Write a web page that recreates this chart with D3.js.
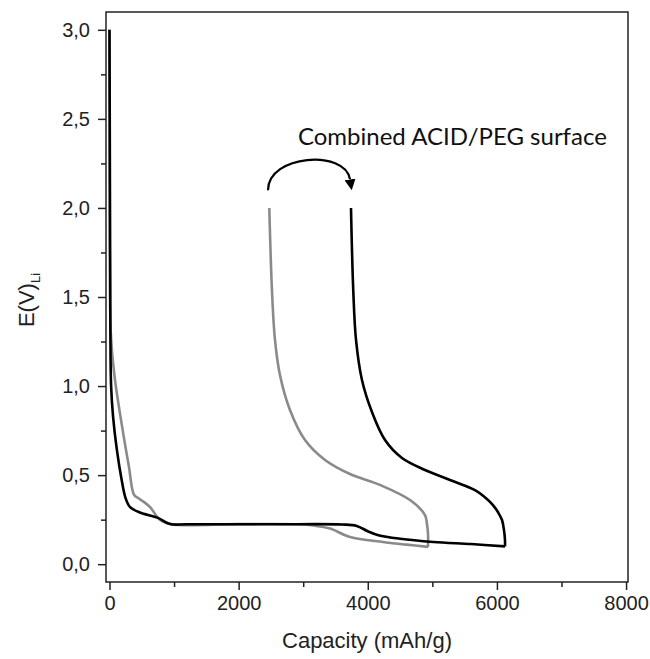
<!DOCTYPE html>
<html><head><meta charset="utf-8">
<script src="https://cdn.jsdelivr.net/npm/d3@7"></script>
<style>body{margin:0;background:#fff}svg{display:block}</style>
</head><body>
<script>
// Black curve (combined ACID/PEG surface): discharge then charge  [capacity mAh/g, E V]
const blackDischarge = [[0,3.0],[4,2.5],[8,1.8],[14,1.3],[25,1.0],[55,0.83],[115,0.64],[190,0.47],[250,0.37],[320,0.32],[470,0.29],[750,0.26],[940,0.225],[1200,0.224],[2500,0.224],[3600,0.223],[3829,0.215],[4000,0.185],[4164,0.163],[4500,0.143],[5015,0.125],[5600,0.113],[6125,0.10]];
const blackCharge = [[6125,0.10],[6125,0.136],[6110,0.19],[6079,0.248],[6020,0.29],[5939,0.332],[5800,0.38],[5660,0.416],[5273,0.473],[4886,0.529],[4530,0.596],[4267,0.697],[4065,0.854],[3910,1.034],[3818,1.259],[3775,1.54],[3740,2.0]];
// Grey curve (reference surface)
const greyDischarge = [[0,3.0],[4,2.4],[9,1.7],[20,1.3],[80,1.05],[210,0.74],[300,0.55],[380,0.39],[450,0.37],[530,0.35],[630,0.32],[780,0.25],[950,0.225],[2000,0.225],[3000,0.223],[3200,0.215],[3415,0.20],[3725,0.153],[4236,0.125],[4600,0.11],[4935,0.097]];
const greyCharge = [[4932,0.097],[4934,0.164],[4915,0.23],[4886,0.276],[4654,0.36],[4189,0.445],[3725,0.506],[3338,0.585],[3028,0.697],[2795,0.866],[2640,1.062],[2563,1.259],[2516,1.539],[2475,2.0]];

const xTicks = [0,2000,4000,6000,8000];
const xMinorTicks = [1000,3000,5000,7000];
const yTicks = [0,0.5,1.0,1.5,2.0,2.5,3.0];
const yMinorTicks = [0.25,0.75,1.25,1.75,2.25,2.75];
const xTitle = "Capacity (mAh/g)";
const annotation = "Combined ACID/PEG surface";
// arrow (data units): start, control1, control2, end
const arrowPts = [[2455,2.10],[2455,2.30],[3650,2.33],[3725,2.16]];
const annotationPos = [2919,2.353];

const W=650,H=659;
const svg=d3.select("body").append("svg").attr("width",W).attr("height",H);
const x=d3.scaleLinear().domain([-54,8030]).range([106,628]);
const y=d3.scaleLinear().domain([-0.1,3.1]).range([582,12]);
const fmt=d=>d3.format(".1f")(d).replace(".",",");

const font="Arial, 'Liberation Sans', Helvetica, sans-serif";
// axes
svg.append("g").attr("transform","translate(0,582)")
  .call(d3.axisBottom(x).tickValues(xTicks).tickSize(8).tickPadding(6).tickFormat(d3.format("d")));
svg.append("g").attr("transform","translate(0,582)")
  .call(d3.axisBottom(x).tickValues(xMinorTicks).tickSize(5).tickFormat(""));
svg.append("g").attr("transform","translate(106,0)")
  .call(d3.axisLeft(y).tickValues(yTicks).tickSize(8).tickPadding(8).tickFormat(fmt));
svg.append("g").attr("transform","translate(106,0)")
  .call(d3.axisLeft(y).tickValues(yMinorTicks).tickSize(5).tickFormat(""));
svg.selectAll(".domain").remove();
svg.selectAll(".tick line").attr("stroke","#222").attr("stroke-width",1.5);
svg.selectAll(".tick text").attr("font-family",font).attr("font-size",20).attr("fill","#222");

// frame
svg.append("rect").attr("x",x.range()[0]).attr("y",y.range()[1])
  .attr("width",x.range()[1]-x.range()[0]).attr("height",y.range()[0]-y.range()[1])
  .attr("fill","none").attr("stroke","#222").attr("stroke-width",1.5);

const line=d3.line().x(d=>x(d[0])).y(d=>y(d[1])).curve(d3.curveCatmullRom.alpha(0.5));
[[greyDischarge,"#8a8a8a"],[greyCharge,"#8a8a8a"],[blackDischarge,"#000"],[blackCharge,"#000"]].forEach(([data,c])=>{
  svg.append("path").datum(data).attr("d",line).attr("fill","none").attr("stroke",c)
    .attr("stroke-width",2.6).attr("stroke-linejoin","round");
});

// titles
svg.append("text").attr("x",(x.range()[0]+x.range()[1])/2).attr("y",648)
  .attr("text-anchor","middle").attr("font-family",font).attr("font-size",22).attr("fill","#222").text(xTitle);
const yt=svg.append("text").attr("transform","translate(34,300) rotate(-90)")
  .attr("text-anchor","middle").attr("font-family",font).attr("font-size",22).attr("fill","#222");
yt.append("tspan").text("E(V)");
yt.append("tspan").attr("font-size",13).attr("dy",6).text("Li");

// annotation arrow
const defs=svg.append("defs");
defs.append("marker").attr("id","ah").attr("viewBox","0 -5 10 10").attr("refX",0).attr("refY",0)
  .attr("markerUnits","userSpaceOnUse").attr("markerWidth",11).attr("markerHeight",11).attr("orient","auto")
  .append("path").attr("d","M0,-5L10,0L0,5Z").attr("fill","#000");
const p=d3.path();
const P=arrowPts.map(d=>[x(d[0]),y(d[1])]);
p.moveTo(...P[0]); p.bezierCurveTo(...P[1],...P[2],...P[3]);
svg.append("path").attr("d",p.toString()).attr("fill","none").attr("stroke","#000").attr("stroke-width",2.2)
  .attr("marker-end","url(#ah)");
svg.append("text").attr("x",x(annotationPos[0])).attr("y",y(annotationPos[1]))
  .attr("font-family","Lato, 'Open Sans', sans-serif").attr("font-size",24).attr("fill","#111").text(annotation);
</script>
</body></html>
